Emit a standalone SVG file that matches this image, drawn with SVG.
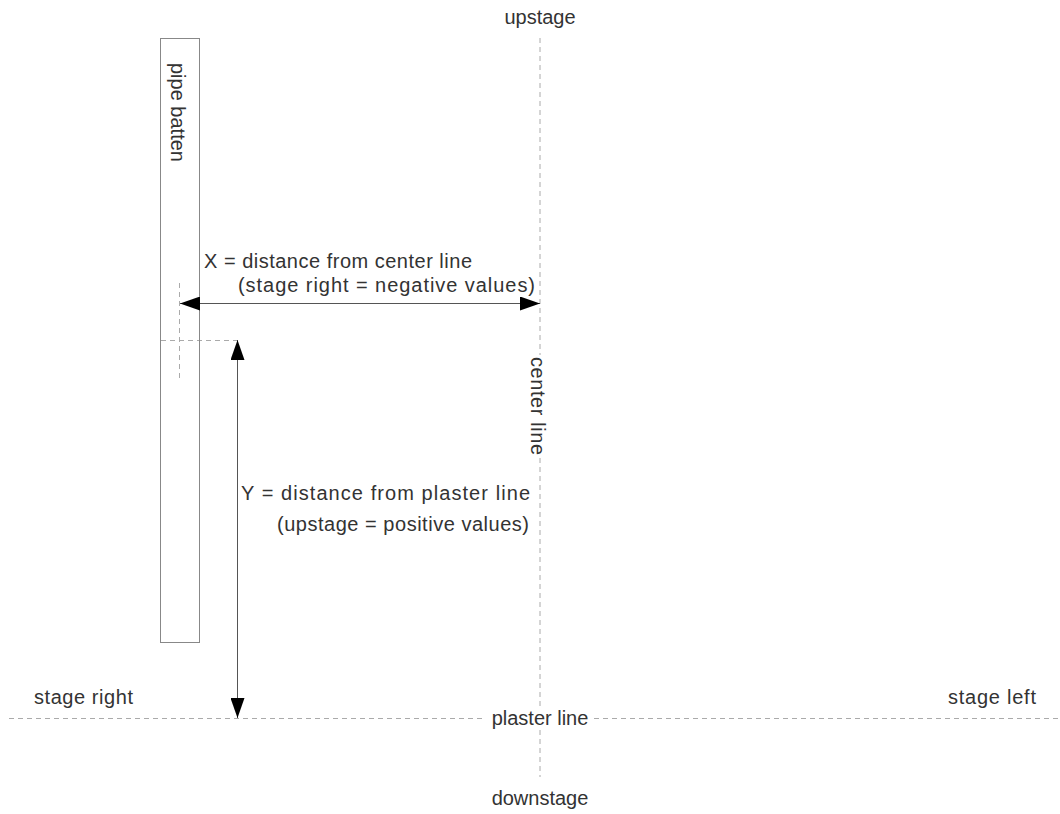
<svg xmlns="http://www.w3.org/2000/svg" width="1060" height="814" viewBox="0 0 1060 814">
<style>
text{font-family:"Liberation Sans",Arial,sans-serif;font-size:20px;fill:#333}
.guide{stroke:#aaa;stroke-width:1;stroke-dasharray:5,4;fill:none}
.dim{stroke:#555;stroke-width:1;fill:none}
.box{stroke:#888;stroke-width:1;fill:none}
</style>
<defs>
<marker id="ah" viewBox="0 0 20 14" refX="20" refY="7" markerWidth="20" markerHeight="14" markerUnits="userSpaceOnUse" orient="auto-start-reverse">
<path d="M0,0 L20,7 L0,14 Z" fill="#000"/>
</marker>
</defs>
<rect width="1060" height="814" fill="#fff"/>
<g id="guides">
<line class="guide" x1="540" y1="38" x2="540" y2="355"/>
<line class="guide" x1="540" y1="458" x2="540" y2="706"/>
<line class="guide" x1="540" y1="730" x2="540" y2="777"/>
<line class="guide" x1="9" y1="718.5" x2="484" y2="718.5"/>
<line class="guide" x1="594" y1="718.5" x2="1060" y2="718.5"/>
<line class="guide" x1="179.5" y1="283" x2="179.5" y2="382"/>
<line class="guide" x1="161" y1="340.5" x2="237" y2="340.5"/>
</g>
<g id="pipe-batten">
<rect class="box" x="160.5" y="38.5" width="39" height="604"/>
<text transform="translate(171,63) rotate(90)">pipe batten</text>
</g>
<g id="connectors">
<line class="dim" x1="180" y1="303.5" x2="540" y2="303.5" marker-start="url(#ah)" marker-end="url(#ah)"/>
<line class="dim" x1="237.5" y1="340" x2="237.5" y2="718" marker-start="url(#ah)" marker-end="url(#ah)"/>
</g>
<g id="labels">
<text x="204" y="268" textLength="268" lengthAdjust="spacing">X = distance from center line</text>
<text x="238" y="292" textLength="297" lengthAdjust="spacing">(stage right = negative values)</text>
<text x="241" y="500" textLength="289" lengthAdjust="spacing">Y = distance from plaster line</text>
<text x="277" y="531" textLength="252" lengthAdjust="spacing">(upstage = positive values)</text>
<text x="34" y="704" textLength="99" lengthAdjust="spacing">stage right</text>
<text x="948" y="704" textLength="88" lengthAdjust="spacing">stage left</text>
<text x="540" y="24" text-anchor="middle">upstage</text>
<text x="540" y="805" text-anchor="middle">downstage</text>
<text x="540" y="725" text-anchor="middle">plaster line</text>
<text transform="translate(531,357) rotate(90)" textLength="98" lengthAdjust="spacing">center line</text>
</g>
</svg>
